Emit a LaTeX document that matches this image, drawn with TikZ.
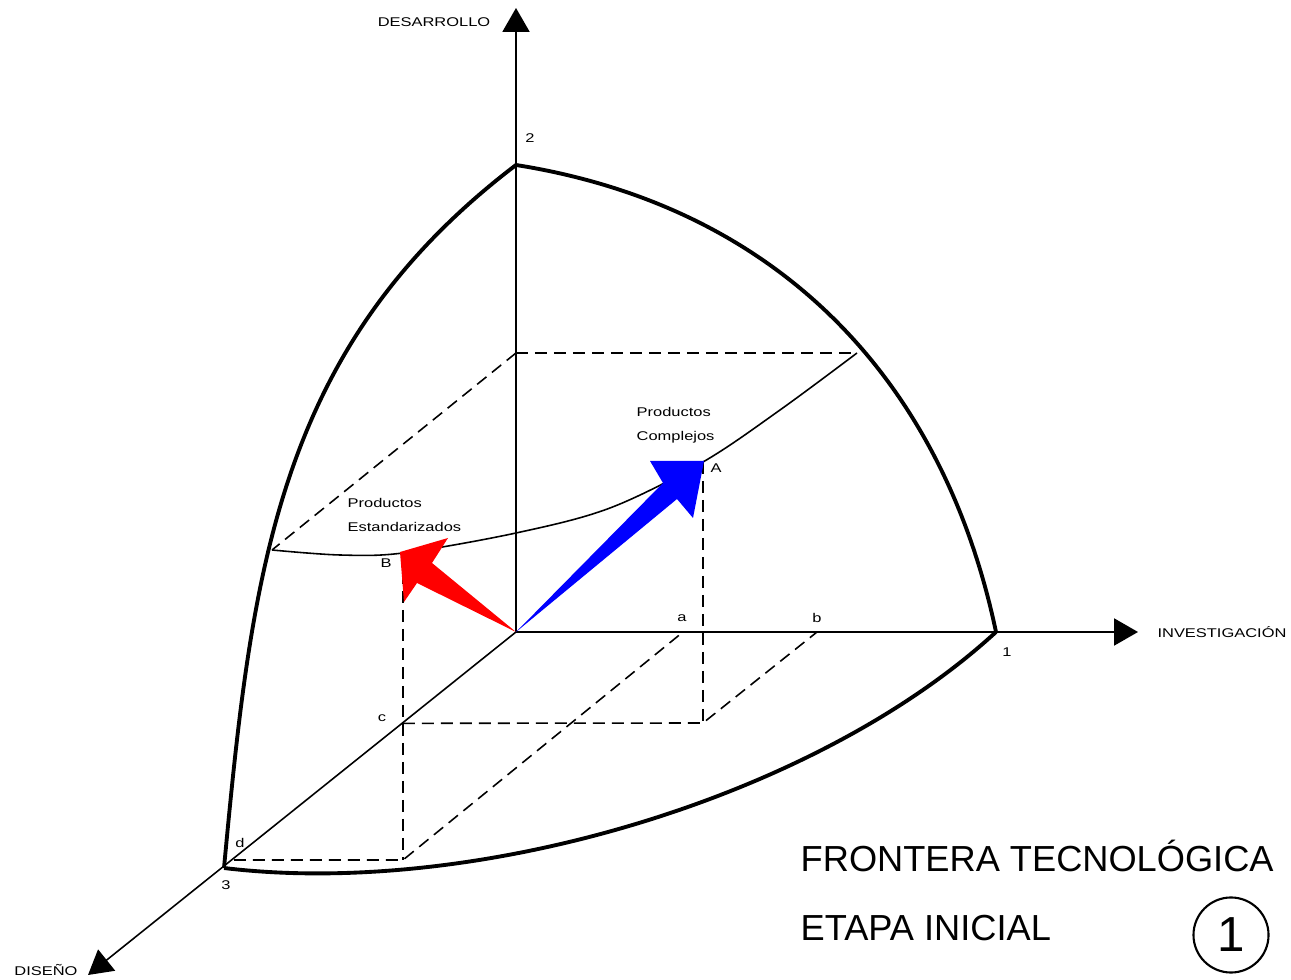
\documentclass[tikz,border=0pt]{standalone}
\usepackage{fontspec}
\setmainfont{Liberation Sans}
\newfontfamily\lblfont[FakeStretch=1.3]{Liberation Sans}
\usetikzlibrary{arrows.meta,calc}
\begin{document}
\begin{tikzpicture}[x=0.01cm, y=-0.01cm,
  axis/.style={line width=0.45pt, -{Triangle[length=6.8pt,width=7.7pt]}},
  frontier/.style={line width=1.1pt},
  guide/.style={line width=0.45pt, dash pattern=on 3.4pt off 2pt},
  lbl/.style={font=\lblfont\fontsize{3.6}{6.8}\selectfont, inner sep=0pt}]
  \useasboundingbox (0,0) rectangle (1291,980);
  % ejes
  \coordinate (O) at (516,632);
  \coordinate (P1) at (996,632);
  \coordinate (P2) at (516,165);
  \coordinate (P3) at (224,868);
  \coordinate (desTip) at (516,8);
  \coordinate (invTip) at (1138,632);
  \coordinate (disTip) at (88,975);
  \draw[axis] (O) -- (desTip);
  \draw[axis] (O) -- (invTip);
  \draw[axis] (O) -- (disTip);
  % planos auxiliares
  \coordinate (up) at (516,353);
  \coordinate (upR) at (857,353);
  \coordinate (upL) at (272,550);
  \coordinate (A) at (703,462);
  \coordinate (B) at (403,553);
  \coordinate (a) at (683,632);
  \coordinate (b) at (817,632);
  \coordinate (c) at ($(O)!0.387!(P3)$);
  \coordinate (d) at (234,860);
  \coordinate (Bfoot) at (403,860);
  \coordinate (Afoot) at (703,723);
  \draw[guide] (up) -- (upR);
  \draw[guide] (up) -- (upL);
  \draw[guide] (B) -- (Bfoot);
  \draw[guide] (A) -- (Afoot);
  \draw[guide] (d) -- (Bfoot) -- (a);
  \draw[guide] (c) -- (Afoot) -- (b);
  % curva de productos
  \draw[line width=0.45pt] plot[smooth, tension=0.55] coordinates
    {(upL) (340,555) (B) (516,533) (610,508) (A) (780,410) (upR)};
  % frontera
  \draw[frontier] (P2) .. controls (775,206) and (942,376) .. (P1);
  \draw[frontier] (P2) .. controls (277,347) and (252,569) .. (P3);
  \draw[frontier] (P3) .. controls (471,898) and (812,801) .. (P1);
  % flechas
  \fill[red] (O) -- (432,563) -- (448,538) -- (400,552) -- (404,602) -- (417,583) -- cycle;
  \fill[blue] (O) -- (663,483) -- (650,461) -- (704,461) -- (693,518) -- (677,499) -- cycle;
  % rotulos
  \node[lbl] (desLbl) at (434,22) {DESARROLLO};
  \node[lbl] (invLbl) at (1222,632) {INVESTIGACIÓN};
  \node[lbl] (disLbl) at (46,970) {DISEÑO};
  \node[lbl] (n2) at (530,138) {2};
  \node[lbl] (n1) at (1007,652) {1};
  \node[lbl] (n3) at (226,885) {3};
  \node[lbl] (na) at (682,618) {a};
  \node[lbl] (nb) at (817,618) {b};
  \node[lbl] (nc) at (382,718) {c};
  \node[lbl] (nd) at (240,843) {d};
  \node[lbl] (nA) at (716,468) {A};
  \node[lbl] (nB) at (386,563) {B};
  \node[lbl, anchor=west, align=left] (complejos) at (636,425) {Productos\\Complejos};
  \node[lbl, anchor=west, align=left] (estandar) at (347,515) {Productos\\Estandarizados};
  \node[anchor=west, inner sep=0pt, font=\fontsize{10.3}{12}\selectfont] (titulo) at (800,856) {FRONTERA TECNOLÓGICA};
  \node[anchor=west, inner sep=0pt, font=\fontsize{10.3}{12}\selectfont] (etapa) at (800,928) {ETAPA INICIAL};
  \node[draw, circle, line width=0.6pt, minimum size=0.75cm, inner sep=0pt, font=\fontsize{14}{16}\selectfont] (fase) at (1231,935) {1};
\end{tikzpicture}
\end{document}
